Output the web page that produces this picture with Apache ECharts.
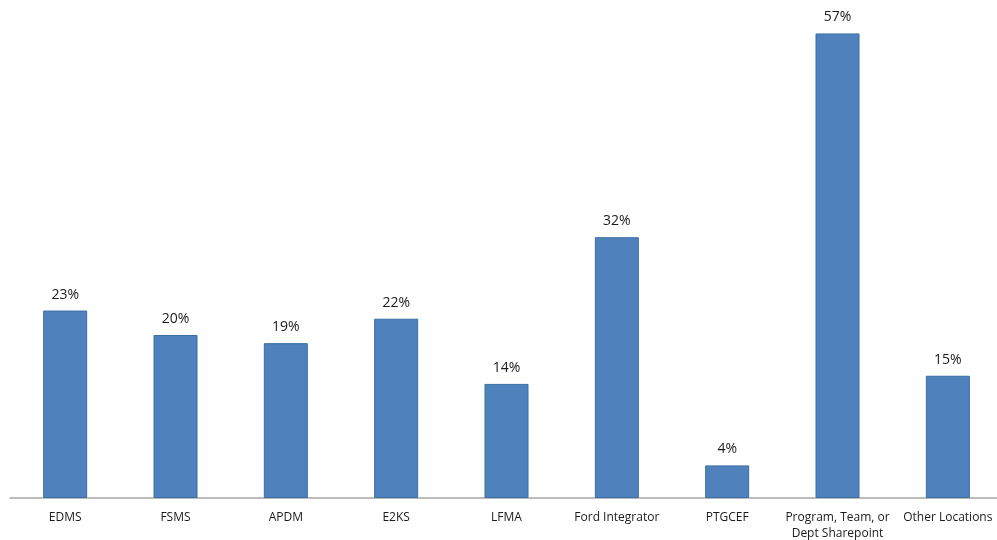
<!DOCTYPE html>
<html>
<head>
<meta charset="utf-8">
<script src="https://cdn.jsdelivr.net/npm/echarts@6/dist/echarts.min.js"></script>
<style>
  html, body { margin: 0; padding: 0; background: #fff; }
  #chart { width: 997px; height: 540px; }
</style>
</head>
<body>
<div id="chart"></div>
<script>
// Share of respondents using each storage location
const categories = [
  'EDMS', 'FSMS', 'APDM', 'E2KS', 'LFMA', 'Ford Integrator', 'PTGCEF',
  'Program, Team, or\nDept Sharepoint', 'Other Locations'
];
const shares = [23, 20, 19, 22, 14, 32, 4, 57, 15];

const chart = echarts.init(document.getElementById('chart'));
chart.setOption({
  animation: false,
  grid: {
    left: 10, width: 993, top: 9, height: 489,
    containLabel: false,
    outerBoundsMode: 'none'
  },
  xAxis: {
    type: 'category',
    data: categories,
    axisLine: { lineStyle: { color: '#A6A6A6', width: 1.5 } },
    axisTick: { show: false },
    axisLabel: {
      interval: 0,
      color: '#1a1a1a',
      fontFamily: 'Open Sans',
      fontSize: 12,
      lineHeight: 16,
      margin: 12
    }
  },
  yAxis: {
    type: 'value',
    min: 0,
    max: 60,
    show: false,
    splitLine: { show: false }
  },
  series: [{
    type: 'bar',
    data: shares,
    barWidth: 44,
    itemStyle: { color: '#4F81BD', borderColor: '#3B6EA5', borderWidth: 1 },
    label: {
      show: true,
      position: 'top',
      distance: 9,
      formatter: p => p.value + '%',
      color: '#1a1a1a',
      fontFamily: 'Open Sans',
      fontSize: 14
    }
  }]
});
</script>
</body>
</html>
